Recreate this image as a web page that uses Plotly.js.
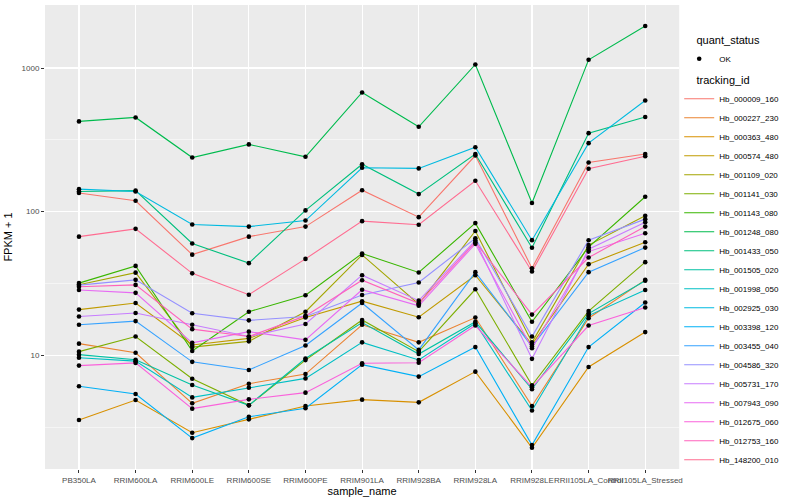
<!DOCTYPE html>
<html><head><meta charset="utf-8">
<script src="https://cdn.plot.ly/plotly-3.0.1.min.js"></script>
<style>body{margin:0;background:#fff}</style>
</head><body><div id="chart" style="width:800px;height:500px"></div>
<script>
const samples = ["PB350LA","RRIM600LA","RRIM600LE","RRIM600SE","RRIM600PE","RRIM901LA","RRIM928BA","RRIM928LA","RRIM928LE","RRII105LA_Control","RRII105LA_Stressed"];

const Hb_000009_160 = [135, 119, 50.2, 67, 78.7, 141, 91.6, 246, 40.4, 220, 252];
const Hb_000227_230 = [12.05, 10.4, 4.63, 6.34, 7.4, 16.3, 12.3, 18.3, 4.43, 18.1, 33.5];
const Hb_000363_480 = [3.54, 4.88, 2.89, 3.58, 4.43, 4.91, 4.7, 7.69, 2.27, 8.28, 14.5];
const Hb_000574_480 = [20.8, 23.1, 11.8, 13.1, 18.3, 23.8, 18.4, 36.1, 11.9, 43.1, 61.2];
const Hb_001109_020 = [31.0, 37.6, 11.4, 12.5, 20.1, 50.0, 22.7, 73.4, 12.3, 58.5, 93.5];
const Hb_001141_030 = [10.6, 13.5, 6.87, 4.48, 9.25, 17.6, 10.6, 28.8, 6.18, 20.3, 44.5];
const Hb_001143_080 = [31.8, 41.9, 10.7, 20.1, 26.2, 51.1, 37.7, 83.2, 17.1, 56.6, 127];
const Hb_001248_080 = [425, 453, 238, 294, 241, 676, 390, 1059, 115, 1142, 1963];
const Hb_001433_050 = [138, 140, 60, 43.8, 102, 214, 132.5, 252, 56, 352, 456];
const Hb_001505_020 = [10.1, 9.3, 6.21, 4.48, 9.5, 16.9, 10.2, 17.1, 5.8, 19.5, 33.0];
const Hb_001998_050 = [9.6, 9.1, 5.09, 5.95, 6.9, 12.3, 9.27, 16.7, 4.12, 18.9, 28.5];
const Hb_002925_030 = [143.5, 138, 81.3, 78.7, 86.7, 202, 200, 281, 63.3, 300, 594];
const Hb_003398_120 = [6.08, 5.37, 2.65, 3.73, 4.28, 8.6, 7.1, 11.4, 2.37, 11.4, 23.3];
const Hb_003455_040 = [16.3, 17.3, 9.0, 7.9, 11.7, 23.1, 10.9, 37.9, 11.5, 37.9, 56.2];
const Hb_004586_320 = [30.8, 33.5, 19.6, 17.5, 18.6, 26.3, 32.1, 65.3, 13.5, 63.2, 88.7];
const Hb_005731_170 = [18.6, 19.7, 16.3, 13.5, 16.5, 36.1, 24.0, 62.9, 9.44, 54.8, 84.5];
const Hb_007943_090 = [28.5, 27.2, 12.2, 14.6, 12.8, 28.6, 22.1, 59.7, 11.2, 52.7, 70.8];
const Hb_012675_060 = [8.47, 8.85, 4.25, 4.93, 5.49, 8.8, 8.87, 16.1, 5.99, 16.1, 21.5];
const Hb_012753_160 = [30.0, 30.9, 15.2, 13.5, 18.8, 33.3, 23.0, 61.3, 19.2, 47.9, 78.7];
const Hb_148200_010 = [67, 75.9, 37.2, 26.4, 46.9, 85.9, 81, 164, 38.3, 199, 243];

const trackingIds = ["Hb_000009_160","Hb_000227_230","Hb_000363_480","Hb_000574_480","Hb_001109_020","Hb_001141_030","Hb_001143_080","Hb_001248_080","Hb_001433_050","Hb_001505_020","Hb_001998_050","Hb_002925_030","Hb_003398_120","Hb_003455_040","Hb_004586_320","Hb_005731_170","Hb_007943_090","Hb_012675_060","Hb_012753_160","Hb_148200_010"];
const seriesValues = [Hb_000009_160,Hb_000227_230,Hb_000363_480,Hb_000574_480,Hb_001109_020,Hb_001141_030,Hb_001143_080,Hb_001248_080,Hb_001433_050,Hb_001505_020,Hb_001998_050,Hb_002925_030,Hb_003398_120,Hb_003455_040,Hb_004586_320,Hb_005731_170,Hb_007943_090,Hb_012675_060,Hb_012753_160,Hb_148200_010];
const colors = ["#F8766D","#EA8331","#D89000","#C09B00","#A3A500","#7CAE00","#39B600","#00BB4E","#00BF7D","#00C1A3","#00BFC4","#00BAE0","#00B0F6","#35A2FF","#9590FF","#C77CFF","#E76BF3","#FA62DB","#FF62BC","#FF6C91"];
const yTicks = [10, 100, 1000];
const yTickText = ["10", "100", "1000"];
const yMinor = [3.1623, 31.623, 316.23];

const pad = '\u00A0\u00A0\u00A0\u00A0\u00A0';

const traces = [];
trackingIds.forEach((id, i) => {
  traces.push({
    type: 'scatter', mode: 'lines', x: samples, y: seriesValues[i], name: id,
    line: {color: colors[i], width: 1.1}, legend: 'legend2', hoverinfo: 'skip'
  });
});
trackingIds.forEach((id, i) => {
  traces.push({
    type: 'scatter', mode: 'markers', x: samples, y: seriesValues[i], name: 'OK',
    marker: {color: 'black', size: 4.6}, legend: 'legend', showlegend: i === 0,
    hoverinfo: 'skip'
  });
});

const layout = {
  width: 800, height: 500,
  margin: {l: 45, r: 116, t: 5, b: 31},
  paper_bgcolor: 'white', plot_bgcolor: '#EBEBEB',
  font: {family: 'Liberation Sans, Arial, sans-serif', size: 8, color: '#4D4D4D'},
  showlegend: true,
  xaxis: {
    type: 'category', categoryorder: 'array', categoryarray: samples,
    range: [-0.6, 10.6], showgrid: true, gridcolor: 'white', gridwidth: 1.1,
    zeroline: false, showline: false, ticks: 'outside', ticklen: 3, tickcolor: '#333333',
    tickwidth: 1, tickangle: 0, tickfont: {size: 8, color: '#4D4D4D'},
    title: {text: 'sample_name', font: {size: 11, color: 'black'}, standoff: 0},
    automargin: false
  },
  yaxis: {
    type: 'log', range: [0.208, 3.439], tickvals: yTicks, ticktext: yTickText,
    showgrid: true, gridcolor: 'white', gridwidth: 1.1, zeroline: false, showline: false,
    ticks: 'outside', ticklen: 3, tickcolor: '#333333', tickwidth: 1,
    tickfont: {size: 8, color: '#4D4D4D'},
    minor: {tickvals: yMinor, showgrid: true, gridcolor: 'white', gridwidth: 0.5, ticks: ''},
    title: {text: 'FPKM + 1', font: {size: 11, color: 'black'}, standoff: 6},
    automargin: false
  },
  legend: {
    xref: 'container', yref: 'container', x: 0.849, y: 0.94, xanchor: 'left', yanchor: 'top',
    title: {text: pad + 'quant_status', font: {size: 11, color: 'black'}},
    font: {size: 8, color: 'black'}, bgcolor: 'rgba(0,0,0,0)', itemwidth: 30
  },
  legend2: {
    xref: 'container', yref: 'container', x: 0.849, y: 0.86, xanchor: 'left', yanchor: 'top',
    title: {text: pad + 'tracking_id', font: {size: 11, color: 'black'}},
    font: {size: 8, color: 'black'}, bgcolor: 'rgba(0,0,0,0)', itemwidth: 30,
    tracegroupgap: 0, maxheight: 440
  }
};

Plotly.newPlot('chart', traces, layout, {displayModeBar: false, staticPlot: true});
</script>
</body></html>
